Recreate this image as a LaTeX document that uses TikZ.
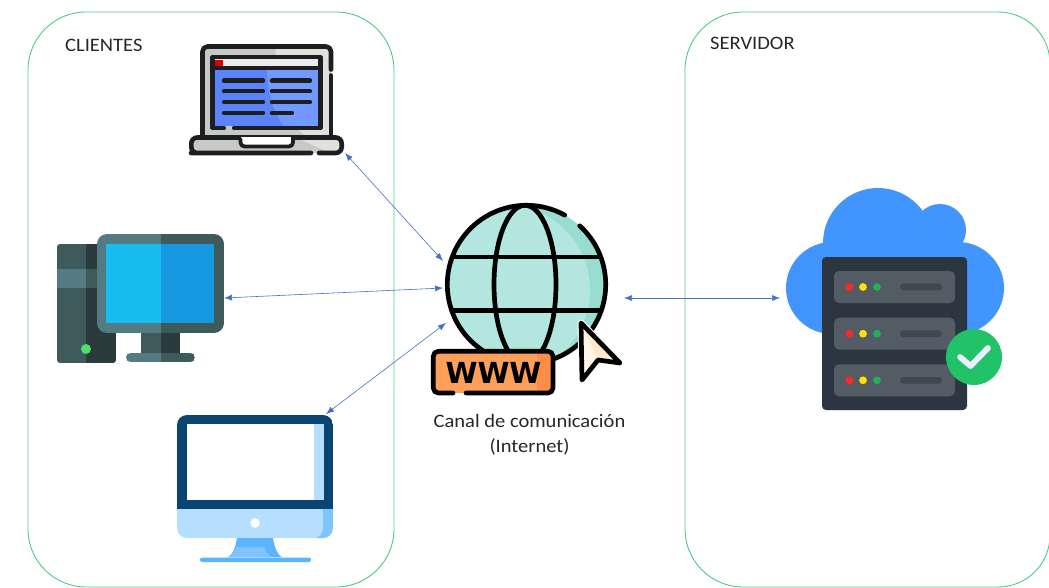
\documentclass[tikz,border=0pt]{standalone}
\usepackage{fontspec}
\setmainfont{Carlito}[FakeStretch=1.08]
\newfontfamily\wwwfont{DejaVu Sans}
\usetikzlibrary{arrows.meta}
\definecolor{panelgreen}{HTML}{4CCB85}
\definecolor{linkblue}{HTML}{4472C4}
\definecolor{ink}{HTML}{1E1E22}
\definecolor{lapgrey}{HTML}{C6CAC4}
\definecolor{lapgreyl}{HTML}{DFE1DB}
\definecolor{lapblue}{HTML}{5C84FA}
\definecolor{lapbluel}{HTML}{7199FF}
\definecolor{teal1}{HTML}{3F5A5B}
\definecolor{teal2}{HTML}{2B3A3A}
\definecolor{teal3}{HTML}{547A84}
\definecolor{scr1}{HTML}{18BDF0}
\definecolor{scr2}{HTML}{1598E0}
\definecolor{navy}{HTML}{0A4470}
\definecolor{skyl}{HTML}{B6DEFF}
\definecolor{skym}{HTML}{7FC4FF}
\definecolor{skyd}{HTML}{5AB4FF}
\definecolor{globel}{HTML}{B3E6DF}
\definecolor{globed}{HTML}{97DDD2}
\definecolor{wwwl}{HTML}{FF9F5A}
\definecolor{wwwd}{HTML}{FB8F48}
\definecolor{curl}{HTML}{FFF6E8}
\definecolor{curd}{HTML}{FFE8CC}
\definecolor{cloud}{HTML}{4294FF}
\definecolor{rack}{HTML}{2B3640}
\definecolor{slot}{HTML}{535B64}
\definecolor{pill}{HTML}{3F4750}
\definecolor{okgreen}{HTML}{22C268}
\tikzset{
  panel/.style={draw=panelgreen,line width=0.9pt},
  link/.style={draw=linkblue,line width=0.6pt,{Latex[length=8pt,width=6pt]}-{Latex[length=8pt,width=6pt]}},
  label/.style={inner sep=0pt,font=\fontsize{19}{25}\selectfont,text=black!85},
  inkline/.style={draw=ink,line width=4.6pt,line cap=round,line join=round},
  rowline/.style={inkline,line width=4.4pt},
  blackline/.style={draw=black,line width=4.7pt,line cap=round,line join=round}
}
\newcommand{\serverrow}[1]{%
  \fill[slot,rounded corners=5pt] (834,#1-16) rectangle (955,#1+16);
  \fill[red!80!pink] (849.3,#1) circle[radius=3.9];
  \fill[yellow!85!orange] (863,#1) circle[radius=3.9];
  \fill[okgreen!90!black] (877,#1) circle[radius=3.9];
  \fill[pill,rounded corners=3.2pt] (900,#1-3.3) rectangle (942,#1+3.3);
}
\begin{document}
\begin{tikzpicture}[x=1pt,y=-1pt]
\useasboundingbox (0,0) rectangle (1049,588);
\clip (0,0) rectangle (1049,588);
% panels
\draw[panel,rounded corners=58pt] (28,12) rectangle (394,587);
\draw[panel] (743,12) -- (998,12) .. controls (1027,12) and (1050,35) .. (1050,64) -- (1050,535)
  .. controls (1050,564) and (1027,587) .. (998,587) -- (743,587)
  .. controls (711,587) and (685,561) .. (685,529) -- (685,70)
  .. controls (685,38) and (711,12) .. (743,12) -- cycle;
\node[label,anchor=west] (clientes) at (65,45) {CLIENTES};
\node[label,anchor=west] (servidor) at (710,43) {SERVIDOR};
% laptop
\fill[lapgrey,rounded corners=5pt] (202.5,46.5) rectangle (331,140);
\fill[lapgreyl] (276,48) .. controls (270,90) and (285,120) .. (308,138) -- (329,138) -- (329,48) -- cycle;
\draw[inkline,rounded corners=5pt] (331,69.5) -- (331,46.5) -- (202.5,46.5) -- (202.5,137);
\draw[inkline] (331,75.5) -- (331,137);
\fill[lapblue] (213,68) rectangle (320,126);
\fill[lapbluel] (267,68) .. controls (267,95) and (275,115) .. (284,126) -- (320,126) -- (320,68) -- cycle;
\fill[white!92!black] (214,58) rectangle (319,67);
\fill[red!85!black] (215,60) rectangle (223,66);
\draw[rowline,line cap=butt] (211,68) -- (322,68);
\draw[inkline,line width=4.2pt] (234,128) -- (320.5,128) -- (320.5,57) -- (212.5,57) -- (212.5,128) -- (224,128);
\foreach \yy in {80.7,91.3,102}{
  \draw[rowline] (224,\yy) -- (263,\yy);
  \draw[rowline] (272,\yy) -- (310,\yy);
}
\draw[rowline] (224,113) -- (263,113);
\draw[rowline] (272,113) -- (292,113);
\fill[lapgrey,rounded corners=6pt] (191,137) rectangle (342,153);
\fill[lapgreyl] (295,137) -- (338,137) -- (342,153) -- (330,153) -- cycle;
\draw[inkline,rounded corners=6pt] (311,153) -- (197,153) -- (191.3,153) -- (191.3,137.5) -- (341.7,137.5) -- (341.7,153) -- (319,153);
\fill[white] (241,137) rectangle (291,145);
\draw[inkline,line width=3.8pt,rounded corners=4pt] (240.5,139) -- (240.5,146.5) -- (293,146.5) -- (293,139);
% desktop
\begin{scope}
  \clip[rounded corners=3pt] (57,244) rectangle (116,363);
  \fill[teal1] (57,244) rectangle (86,363);
  \fill[teal2] (86,244) rectangle (116,363);
  \fill[teal3] (57,269) rectangle (86,288);
  \fill[teal1] (86,269) rectangle (116,288);
\end{scope}
\fill[green!65!teal!70!white] (86,349) circle[radius=5];
\fill[teal1] (141,333) rectangle (161,353);
\fill[teal2] (161,333) rectangle (180,353);
\begin{scope}
  \clip[rounded corners=4.5pt] (126,353) rectangle (195,362);
  \fill[teal3] (126,353) rectangle (161,362);
  \fill[teal1] (161,353) rectangle (195,362);
\end{scope}
\begin{scope}
  \clip[rounded corners=10pt] (97,234) rectangle (224,333);
  \fill[teal3] (97,234) rectangle (161,333);
  \fill[teal1] (161,234) rectangle (224,333);
\end{scope}
\fill[scr1] (106,244) rectangle (161,323);
\fill[scr2] (161,244) rectangle (214,323);
% iMac
\fill[skyd] (237,538) -- (273,538) .. controls (275,550) and (278,555) .. (282,557) -- (228,557) .. controls (232,555) and (235,550) .. (237,538) -- cycle;
\fill[skym] (236,547) -- (264,547) .. controls (266,551) and (268,555) .. (272,557) -- (229,557) .. controls (232,555) and (235,551) .. (236,547) -- cycle;
\fill[skyd,rounded corners=2.2pt] (200,557.5) rectangle (311,562);
\begin{scope}
  \clip[rounded corners=10pt] (177,415) rectangle (333,538);
  \fill[skyl] (177,500) rectangle (333,538);
  \fill[skym] (323,505) -- (333,505) -- (333,538) -- (316,538) .. controls (321,536) and (323,532) .. (323,528) -- cycle;
  \fill[navy] (177,415) rectangle (333,509);
\end{scope}
\fill[white] (187,424) rectangle (324,500);
\fill[skyl] (314,424) rectangle (324,500);
\fill[white] (255,523) circle[radius=4.8];
% globe
\begin{scope}
  \clip (526.5,284.5) circle[radius=79.2];
  \fill[globed] (440,200) rectangle (612,370);
  \fill[globel] (505,290) circle[radius=85];
\end{scope}
\draw[blackline] (526.5,284.5) ++(-47.8:79.2) arc[start angle=-47.8,delta angle=346.6,radius=79.2];
\draw[blackline] (525,284.5) ellipse[x radius=31,y radius=79.2];
\draw[blackline,line cap=butt] (454,257) -- (599,257);
\draw[blackline,line cap=butt] (453,310.7) -- (600,310.7);
\draw[draw=white,line width=7pt,line join=round,fill=white] (581,323) -- (620,363) -- (598,360) -- (582,380) -- cycle;
\fill[curl] (581,323) -- (620,363) -- (598,360) -- (582,380) -- cycle;
\fill[curd] (581,323) -- (620,363) -- (598,360) -- cycle;
\draw[blackline] (581,323) -- (620,363) -- (598,360) -- (582,380) -- cycle;
\begin{scope}
  \clip[rounded corners=5pt] (433,351) rectangle (553,393);
  \fill[wwwl] (433,351) rectangle (537,393);
  \fill[wwwd] (537,351) rectangle (553,393);
\end{scope}
\draw[blackline,rounded corners=5pt] (453,393) -- (433.3,393) -- (433.3,351.3) -- (553,351.3) -- (553,393) -- (466,393);
\node[inner sep=0pt,font=\wwwfont\bfseries\fontsize{29}{30}\selectfont,text=black] (www) at (493.5,372.5) {WWW};
% server
\fill[cloud] (832,288) circle[radius=46];
\fill[cloud] (958,288) circle[radius=46];
\fill[cloud] (878,243) circle[radius=55];
\fill[cloud] (940,230) circle[radius=26];
\fill[cloud] (840,245) rectangle (960,334);
\fill[rack,rounded corners=4pt] (822,257) rectangle (967,410);
\serverrow{287}
\serverrow{333.7}
\serverrow{380.3}
\fill[okgreen] (974,357) circle[radius=28];
\draw[draw=white!93!blue,line width=5.8pt,line cap=round,line join=round] (960,357) -- (970.5,366) -- (988,348);
% label
\node[label,align=center,anchor=center] (canal) at (529.5,435) {Canal de comunicación\\(Internet)};
% connectors
\coordinate (lapEnd) at (345,153);
\coordinate (globeA) at (443,261);
\coordinate (deskEnd) at (224,298);
\coordinate (globeB) at (443,288);
\coordinate (imacEnd) at (326,414);
\coordinate (globeC) at (446,323);
\coordinate (globeD) at (624,298);
\coordinate (srvEnd) at (780,298);
\draw[link] (lapEnd) -- (globeA);
\draw[link] (deskEnd) -- (globeB);
\draw[link] (imacEnd) -- (globeC);
\draw[link] (globeD) -- (srvEnd);
\end{tikzpicture}
\end{document}
